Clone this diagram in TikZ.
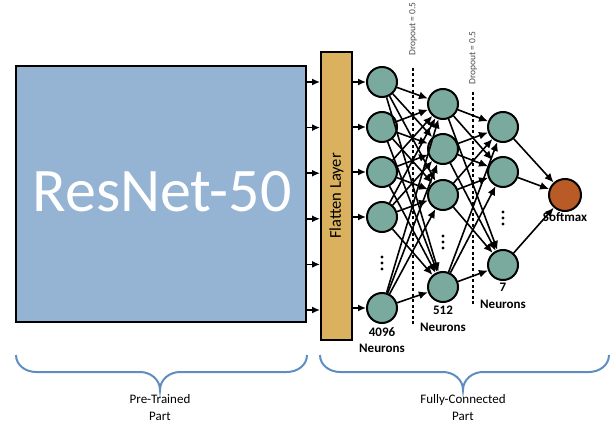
\documentclass[tikz,border=0pt]{standalone}
\usepackage{fontspec}
\setmainfont{Carlito}
\usetikzlibrary{positioning,arrows.meta,calc}
\usepackage{xcolor}

\definecolor{resblue}{HTML}{95B3D3}
\definecolor{flatgold}{HTML}{D9B15F}
\definecolor{neurgreen}{HTML}{7AAA9E}
\definecolor{softorange}{HTML}{B95B26}
\definecolor{bracebl}{HTML}{5E8EC1}

\begin{document}
\begin{tikzpicture}[x=1pt, y=-1pt,
  neuron/.style={circle, draw, line width=2pt, fill=neurgreen, minimum size=30pt, inner sep=0pt},
  conn/.style={line width=1.6pt, -{Latex[length=9pt,width=8pt]}},
  stub/.style={line width=1.5pt, -{Latex[length=8pt,width=7pt]}},
  dropline/.style={line width=2.2pt, dash pattern=on 3pt off 2.5pt},
  lbl/.style={font=\fontsize{13}{16.5}\selectfont\bfseries, align=center, inner sep=1pt},
  partlbl/.style={font=\fontsize{13}{17}\selectfont, align=center, inner sep=0pt},
  curly/.style={draw=bracebl, line width=2pt},
  droplbl/.style={rotate=90, font=\fontsize{9.5}{9.5}\selectfont, text=black!70}]

\useasboundingbox (0,0) rectangle (611,425);

% Pre-trained block and flatten layer
\node[draw, line width=2pt, fill=resblue, minimum width=290pt, minimum height=256pt,
      inner sep=0pt] (ResNet) at (161,194) {};
\node[text=white, font=\fontsize{62}{62}\selectfont] (ResName) at (162,192) {ResNet-50};
\node[draw, line width=2pt, fill=flatgold, minimum width=31pt, minimum height=288pt,
      inner sep=0pt] (Flatten) at (336.5,196) {};
\node[rotate=90, font=\fontsize{16.5}{16.5}\selectfont] (FlatName) at (Flatten) {Flatten Layer};

% Arrows into the flatten layer
\foreach \i in {0,...,5} {
  \pgfmathsetmacro{\y}{82+45.6*\i}
  \draw[stub] (ResNet.east |- 0,\y) -- (Flatten.west |- 0,\y);
}

% Dropout lines (behind the edges)
\draw[dropline] (413,68) -- (413,325);
\draw[dropline] (473,92) -- (473,305);
\node[droplbl] (Drop1) at (413,29) {Dropout = 0.5};
\node[droplbl] (Drop2) at (473,58) {Dropout = 0.5};

% First dense layer (4096)
\foreach \i/\y in {1/82,2/127,3/172,4/217,5/308} {
  \node[neuron] (A\i) at (382,\y) {};
  \draw[stub] (Flatten.east |- A\i) -- (A\i);
}
\coordinate (Adots) at (382,263);

% Second dense layer (512)
\foreach \j/\y in {1/104,2/149,3/195,4/287} {
  \node[neuron] (B\j) at (443,\y) {};
}
\coordinate (Bdots) at (443,242);

% Third dense layer (7)
\foreach \k/\y in {1/127,2/172,3/265} {
  \node[neuron] (C\k) at (503,\y) {};
}
\coordinate (Cdots) at (503,218);

% Vertical dots for the hidden neurons
\foreach \p in {Adots,Bdots,Cdots}
  \foreach \d in {-6,0,6}
    \fill ($(\p)+(0,\d)$) circle (1.6pt);

% Output
\node[neuron, fill=softorange, minimum size=32pt] (Soft) at (565,195) {};

% Connections
\foreach \i in {1,...,5}
  \foreach \j in {1,...,4}
    \draw[conn] (A\i) -- (B\j);
\foreach \j in {1,...,4}
  \foreach \k in {1,...,3}
    \draw[conn] (B\j) -- (C\k);
\foreach \k in {1,...,3}
  \draw[conn] (C\k) -- (Soft);

% Layer labels
\node[lbl, below=2pt of A5] (Alab) {4096\\Neurons};
\node[lbl, below=2pt of B4] (Blab) {512\\Neurons};
\node[lbl, below=1pt of C3] (Clab) {7\\Neurons};
\node[lbl, below=-1pt of Soft] (Slab) {Softmax};

% Braces
\draw[curly] (16,355) to[out=-90,in=180] (36,372) -- (140,372)
  to[out=0,in=90] (160,390) to[out=90,in=180] (180,372) -- (287,372)
  to[out=0,in=-90] (307,355);
\draw[curly] (320,355) to[out=-90,in=180] (340,372) -- (443,372)
  to[out=0,in=90] (463,390) to[out=90,in=180] (483,372) -- (589,372)
  to[out=0,in=-90] (609,355);

\node[partlbl] (PreLab) at (160,408) {Pre-Trained\\Part};
\node[partlbl] (FCLab) at (463,408) {Fully-Connected\\Part};

\end{tikzpicture}
\end{document}
